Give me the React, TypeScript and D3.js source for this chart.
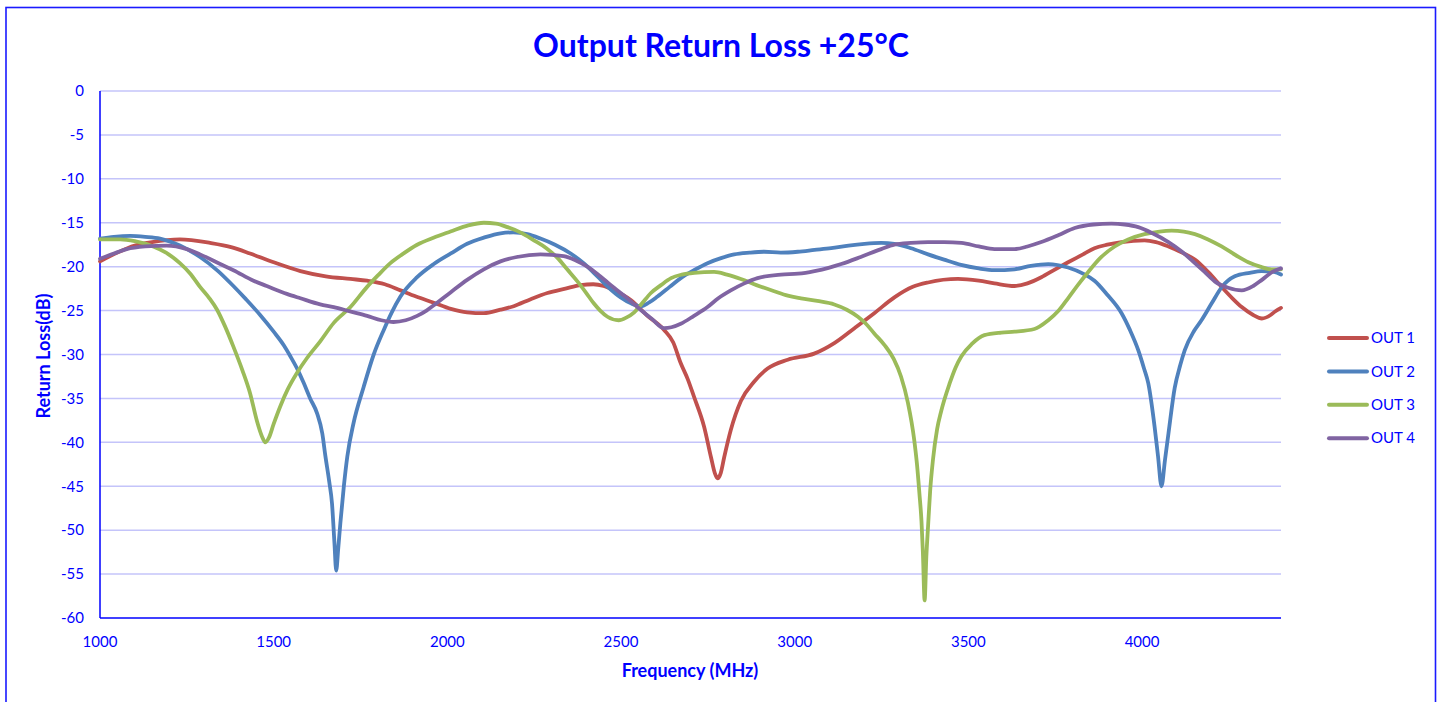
import React from 'react';
import * as d3 from 'd3';

const out1 = [
  [1000, -19.4], [1050, -18.4], [1100, -17.6], [1150, -17.2], [1230, -16.9], [1317, -17.3], [1380, -17.8],
  [1432, -18.5], [1500, -19.5], [1577, -20.5], [1650, -21.1], [1721, -21.4], [1769, -21.6], [1820, -22.0],
  [1865, -22.7], [1910, -23.4], [1961, -24.1], [2010, -24.8], [2057, -25.2], [2105, -25.3], [2153, -24.9],
  [2191, -24.5], [2240, -23.7], [2288, -23.0], [2340, -22.5], [2384, -22.1], [2420, -22.0], [2450, -22.2],
  [2479, -22.7], [2528, -23.8], [2576, -25.6], [2624, -27.2], [2650, -28.6], [2672, -31.0], [2692, -32.8],
  [2710, -34.8], [2739, -38.2], [2759, -41.7], [2770, -43.5], [2778, -44.1], [2787, -43.5], [2797, -41.7],
  [2816, -38.6], [2845, -35.3], [2883, -33.1], [2922, -31.6], [2980, -30.6], [3056, -29.9], [3114, -28.7],
  [3172, -27.0], [3229, -25.3], [3287, -23.5], [3340, -22.3], [3384, -21.8], [3470, -21.4], [3530, -21.6],
  [3575, -21.9], [3633, -22.2], [3670, -21.9], [3710, -21.2], [3750, -20.3], [3787, -19.5], [3830, -18.6],
  [3863, -17.9], [3900, -17.5], [3941, -17.2], [4007, -17.0], [4040, -17.2], [4076, -17.7], [4115, -18.4],
  [4152, -19.2], [4190, -20.6], [4229, -22.3], [4260, -23.6], [4287, -24.6], [4320, -25.5], [4345, -25.9],
  [4370, -25.5], [4383, -25.1], [4400, -24.7],
];

const out2 = [
  [1000, -16.8], [1040, -16.6], [1087, -16.5], [1130, -16.6], [1173, -16.8], [1230, -17.6], [1288, -18.9],
  [1340, -20.5], [1384, -22.2], [1420, -23.7], [1461, -25.5], [1500, -27.4], [1530, -29.0], [1548, -30.2],
  [1570, -31.8], [1586, -33.2], [1605, -35.0], [1625, -36.7], [1640, -39.0], [1649, -41.6], [1660, -44.5],
  [1668, -47.0], [1675, -51.5], [1680, -54.6], [1686, -52.0], [1692, -49.2], [1702, -45.0], [1712, -41.6],
  [1730, -37.8], [1759, -33.7], [1788, -30.0], [1817, -27.2], [1840, -25.2], [1865, -23.4], [1913, -21.2],
  [1961, -19.7], [2010, -18.5], [2057, -17.4], [2105, -16.7], [2153, -16.2], [2190, -16.1], [2230, -16.3],
  [2268, -16.8], [2310, -17.5], [2355, -18.5], [2395, -19.7], [2432, -21.1], [2465, -22.4], [2499, -23.5],
  [2530, -24.2], [2557, -24.5], [2580, -24.1], [2605, -23.4], [2640, -22.3], [2672, -21.3], [2710, -20.4],
  [2749, -19.6], [2790, -19.0], [2826, -18.6], [2870, -18.4], [2912, -18.3], [2960, -18.4], [3009, -18.3],
  [3057, -18.1], [3105, -17.9], [3155, -17.6], [3201, -17.4], [3249, -17.3], [3287, -17.4], [3335, -17.9],
  [3384, -18.6], [3430, -19.2], [3479, -19.8], [3530, -20.2], [3575, -20.4], [3633, -20.3], [3680, -19.9],
  [3730, -19.7], [3787, -20.1], [3830, -20.8], [3863, -21.6], [3900, -23.2], [3941, -25.3], [3965, -27.2],
  [3989, -29.5], [4005, -31.5], [4018, -33.3], [4036, -38.2], [4046, -41.6], [4056, -45.0], [4066, -42.0],
  [4076, -39.0], [4094, -33.8], [4110, -31.2], [4123, -29.5], [4150, -27.3], [4171, -26.1], [4200, -24.2],
  [4230, -22.3], [4267, -21.1], [4310, -20.7], [4344, -20.5], [4380, -20.6], [4400, -20.9],
];

const out3 = [
  [1000, -16.9], [1058, -16.9], [1100, -17.1], [1153, -17.7], [1190, -18.4], [1230, -19.6], [1260, -20.8],
  [1288, -22.3], [1315, -23.6], [1337, -24.9], [1360, -26.8], [1384, -29.1], [1410, -31.8], [1432, -34.4],
  [1452, -37.6], [1466, -39.3], [1476, -40.0], [1486, -39.5], [1500, -37.9], [1520, -35.8], [1540, -34.0],
  [1567, -32.1], [1596, -30.4], [1634, -28.5], [1673, -26.4], [1721, -24.6], [1769, -22.3], [1800, -21.0],
  [1836, -19.6], [1870, -18.6], [1913, -17.5], [1960, -16.7], [2009, -16.0], [2060, -15.3], [2105, -15.0],
  [2140, -15.1], [2173, -15.5], [2210, -16.1], [2249, -17.0], [2285, -17.9], [2317, -19.0], [2345, -20.3],
  [2375, -21.7], [2400, -23.0], [2422, -24.2], [2440, -25.0], [2461, -25.7], [2493, -26.1], [2515, -25.8],
  [2538, -25.2], [2560, -24.2], [2586, -23.0], [2615, -22.1], [2644, -21.3], [2675, -20.9], [2711, -20.7],
  [2768, -20.6], [2805, -20.9], [2845, -21.4], [2890, -22.1], [2941, -22.8], [2980, -23.3], [3018, -23.6],
  [3065, -23.9], [3114, -24.3], [3150, -24.9], [3182, -25.7], [3205, -26.5], [3229, -27.6], [3258, -28.9],
  [3285, -30.5], [3306, -32.5], [3326, -35.5], [3344, -39.7], [3352, -42.5], [3359, -45.8], [3365, -49.0],
  [3369, -52.5], [3374, -58.0], [3379, -53.0], [3384, -49.5], [3390, -45.5], [3398, -42.0], [3410, -38.5],
  [3422, -36.4], [3446, -33.3], [3463, -31.5], [3480, -30.2], [3510, -28.8], [3546, -27.8], [3595, -27.5],
  [3633, -27.4], [3690, -27.1], [3730, -26.1], [3760, -25.0], [3787, -23.6], [3815, -22.1], [3845, -20.6],
  [3880, -19.0], [3921, -17.7], [3960, -16.9], [4007, -16.3], [4050, -16.0], [4085, -15.9], [4120, -16.0],
  [4152, -16.3], [4190, -16.9], [4229, -17.7], [4270, -18.7], [4306, -19.5], [4340, -20.0], [4373, -20.3],
  [4400, -20.3],
];

const out4 = [
  [1000, -19.1], [1040, -18.5], [1077, -18.0], [1130, -17.7], [1192, -17.6], [1250, -18.0], [1288, -18.6],
  [1346, -19.7], [1384, -20.4], [1442, -21.6], [1480, -22.2], [1538, -23.1], [1577, -23.6], [1634, -24.3],
  [1673, -24.6], [1720, -25.1], [1769, -25.6], [1810, -26.1], [1845, -26.3], [1880, -26.1], [1913, -25.6],
  [1940, -25.0], [1961, -24.4], [2010, -22.9], [2057, -21.5], [2105, -20.3], [2153, -19.4], [2200, -18.9],
  [2268, -18.6], [2335, -18.8], [2370, -19.3], [2403, -20.0], [2440, -21.1], [2480, -22.4], [2515, -23.5],
  [2547, -24.6], [2590, -26.0], [2624, -27.0], [2645, -26.9], [2672, -26.5], [2710, -25.6], [2749, -24.6],
  [2780, -23.6], [2816, -22.7], [2855, -21.9], [2893, -21.3], [2961, -20.9], [3010, -20.8], [3057, -20.5],
  [3100, -20.1], [3134, -19.7], [3190, -18.9], [3249, -18.0], [3287, -17.5], [3335, -17.3], [3384, -17.2],
  [3430, -17.2], [3480, -17.3], [3530, -17.7], [3575, -18.0], [3633, -18.0], [3670, -17.7], [3710, -17.2],
  [3760, -16.4], [3806, -15.6], [3860, -15.2], [3912, -15.1], [3950, -15.2], [3989, -15.5], [4030, -16.2],
  [4076, -17.2], [4115, -18.3], [4152, -19.6], [4180, -20.6], [4210, -21.7], [4248, -22.4], [4287, -22.7],
  [4320, -22.2], [4345, -21.5], [4375, -20.6], [4400, -20.2],
];

const seriesNames = ['OUT 1', 'OUT 2', 'OUT 3', 'OUT 4'];
const seriesColors = ['#C0504D', '#4F81BD', '#9BBB59', '#8064A2'];
const seriesData = [out1, out2, out3, out4];

const xTicks = [1000, 1500, 2000, 2500, 3000, 3500, 4000];
const yTicks = [0, -5, -10, -15, -20, -25, -30, -35, -40, -45, -50, -55, -60];

const BLUE = '#0000FF';
const FONT = 'Lato, "Open Sans", sans-serif';

export default function App() {
  const x = d3.scaleLinear().domain([1000, 4400]).range([100, 1281]);
  const y = d3.scaleLinear().domain([-60, 0]).range([618, 91]);

  const line = d3
    .line<number[]>()
    .x(d => x(d[0]))
    .y(d => y(d[1]))
    .curve(d3.curveMonotoneX);

  return (
    <svg
      width={1440}
      height={702}
      style={{ position: 'absolute', left: 0, top: 0, display: 'block', background: '#fff' }}
    >
      <rect x={6} y={7.5} width={1429.5} height={720} fill="#fff" stroke="#1a1aff" strokeWidth={1.6} />

      <text x={721} y={57} textAnchor="middle" fontFamily={FONT} fontWeight="bold" fontSize={32} fill={BLUE}>
        Output Return Loss +25°C
      </text>

      {/* gridlines */}
      {yTicks.filter(t => t !== -60).map(t => (
        <line key={t} x1={100} x2={1281} y1={y(t)} y2={y(t)} stroke="#c4c4fa" strokeWidth={1.5} />
      ))}

      {/* axes */}
      <line x1={100} x2={100} y1={y(0)} y2={y(-60)} stroke={BLUE} strokeWidth={1.5} />
      <line x1={100} x2={1281} y1={y(-60)} y2={y(-60)} stroke={BLUE} strokeWidth={1.5} />

      {yTicks.map(t => (
        <text key={t} x={84} y={y(t)} dy="0.35em" textAnchor="end" fontFamily={FONT} fontSize={15} fill={BLUE}>
          {t}
        </text>
      ))}
      {xTicks.map(t => (
        <text key={t} x={x(t)} y={647} textAnchor="middle" fontFamily={FONT} fontSize={15} fill={BLUE}>
          {t}
        </text>
      ))}

      <text
        transform="translate(50,356) rotate(-90)"
        textAnchor="middle"
        fontFamily={FONT}
        fontWeight="bold"
        fontSize={18}
        fill={BLUE}
      >
        Return Loss(dB)
      </text>
      <text x={690} y={677} textAnchor="middle" fontFamily={FONT} fontWeight="bold" fontSize={18} fill={BLUE}>
        Frequency (MHz)
      </text>

      {/* traces */}
      {seriesData.map((d, i) => (
        <path
          key={seriesNames[i]}
          d={line(d) || ''}
          fill="none"
          stroke={seriesColors[i]}
          strokeWidth={3.8}
          strokeLinejoin="round"
          strokeLinecap="round"
        />
      ))}

      {/* legend */}
      {seriesNames.map((name, i) => {
        const ly = 338 + i * 33.4;
        return (
          <g key={name}>
            <line x1={1329} x2={1367} y1={ly} y2={ly} stroke={seriesColors[i]} strokeWidth={4} strokeLinecap="round" />
            <text x={1371} y={ly} dy="0.35em" fontFamily={FONT} fontSize={15} fill={BLUE}>
              {name}
            </text>
          </g>
        );
      })}
    </svg>
  );
}
